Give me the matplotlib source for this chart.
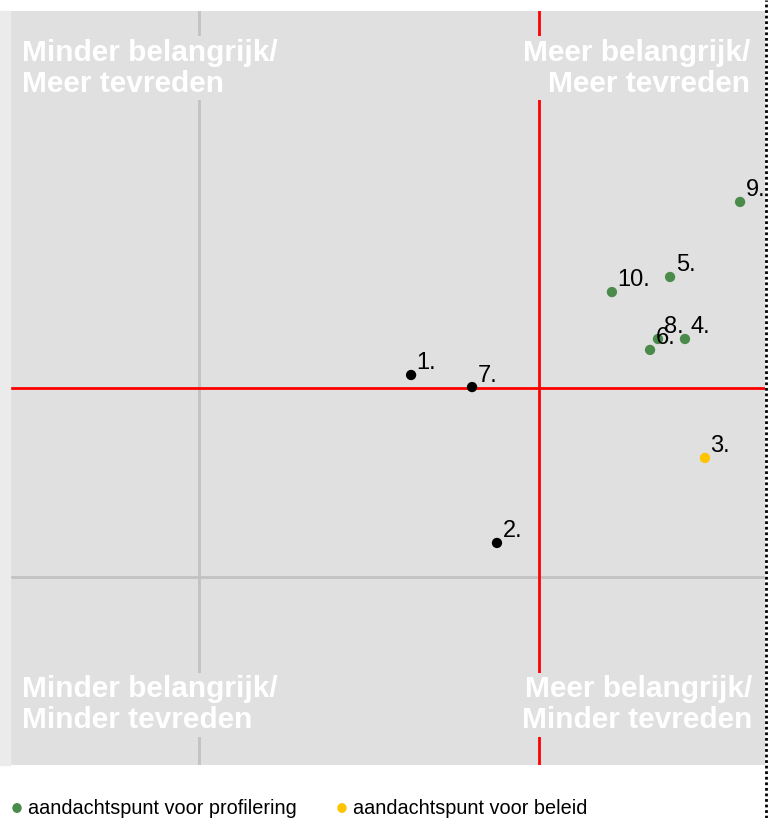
import matplotlib
matplotlib.use("Agg")
import matplotlib.pyplot as plt
from matplotlib.patches import Rectangle
from matplotlib.lines import Line2D

plt.rcParams["font.family"] = ["Liberation Sans", "DejaVu Sans"]

# ── data ──────────────────────────────────────────────────────────────────────
labels   = ["1.", "2.", "3.", "4.", "5.", "6.", "7.", "8.", "9.", "10."]
belang   = [2.125, 2.580, 3.682, 3.576, 3.497, 3.391, 2.448, 3.433, 3.868, 3.189]
tevreden = [2.069, 1.178, 1.629, 2.260, 2.589, 2.202, 2.005, 2.260, 2.987, 2.509]
groep    = ["neutraal", "neutraal", "beleid", "profilering", "profilering",
            "profilering", "neutraal", "profilering", "profilering", "profilering"]

x_min, x_max = 0.0, 4.0
y_min, y_max = 0.0, 4.0
grid_x, grid_y = 1.0, 1.0
mid_x, mid_y = 2.8, 2.0

colors = {"neutraal": "#000000", "profilering": "#4a8a4a", "beleid": "#ffc400"}
legend_items = [("profilering", "aandachtspunt voor profilering"),
                ("beleid", "aandachtspunt voor beleid")]

# ── plot ──────────────────────────────────────────────────────────────────────
W, H = 770, 818
bg = "#e0e0e0"
fig = plt.figure(figsize=(W / 100, H / 100), dpi=100)

# light strip at the left edge
fig.patches.append(Rectangle((0, (H - 765) / H), 10 / W, (765 - 11) / H,
                             transform=fig.transFigure, color="#ebebeb", zorder=0))

ax = fig.add_axes([10 / W, (H - 765) / H, 755 / W, 754 / H])
ax.set_facecolor(bg)
ax.set_xlim(x_min, x_max)
ax.set_ylim(y_min, y_max)
ax.set_xticks([])
ax.set_yticks([])
for s in ax.spines.values():
    s.set_visible(False)

ax.axvline(grid_x, color="#c2c2c2", lw=2, zorder=1)
ax.axhline(grid_y, color="#c2c2c2", lw=2, zorder=1)
ax.axvline(mid_x, color="#ff0000", lw=2, zorder=2)
ax.axhline(mid_y, color="#ff0000", lw=2, zorder=2)

# quadrant labels (on a background box that hides the lines behind them)
qkw = dict(color="white", fontsize=21.5, fontweight="bold", transform=ax.transAxes,
           linespacing=1.12, zorder=3,
           bbox=dict(facecolor=bg, edgecolor="none", pad=2))
ax.text(12 / 755, 1 - 28 / 754, "Minder belangrijk/\nMeer tevreden", ha="left", va="top", **qkw)
ax.text(740 / 755, 1 - 28 / 754, "Meer belangrijk/\nMeer tevreden", ha="right", va="top",
        multialignment="right", **qkw)
ax.text(12 / 755, 31 / 754, "Minder belangrijk/\nMinder tevreden", ha="left", va="bottom", **qkw)
ax.text(742 / 755, 31 / 754, "Meer belangrijk/\nMinder tevreden", ha="right", va="bottom",
        multialignment="right", **qkw)

for lab, xv, yv, g in zip(labels, belang, tevreden, groep):
    ax.scatter(xv, yv, s=55, color=colors[g], edgecolors="none", zorder=4, clip_on=False)
    ax.annotate(lab, (xv, yv), xytext=(4, 4), textcoords="offset points",
                ha="left", va="baseline", fontsize=17, color="black", zorder=5,
                annotation_clip=False)

# legend below
lx = [17, 342]
for (g, txt), px in zip(legend_items, lx):
    fig.patches.append(plt.Circle((px / W, 1 - 808 / H), 4 / W, transform=fig.transFigure,
                                  color=colors[g]))
    fig.text((px + 11) / W, 1 - 808 / H, txt, ha="left", va="center", fontsize=14.3,
             color="black")

# dotted frame on the right
fig.lines.append(Line2D([765.5 / W, 765.5 / W], [0, 1], transform=fig.transFigure,
                        color="black", lw=2, linestyle=(0, (1, 1))))

fig.savefig("out.png", dpi=100)
